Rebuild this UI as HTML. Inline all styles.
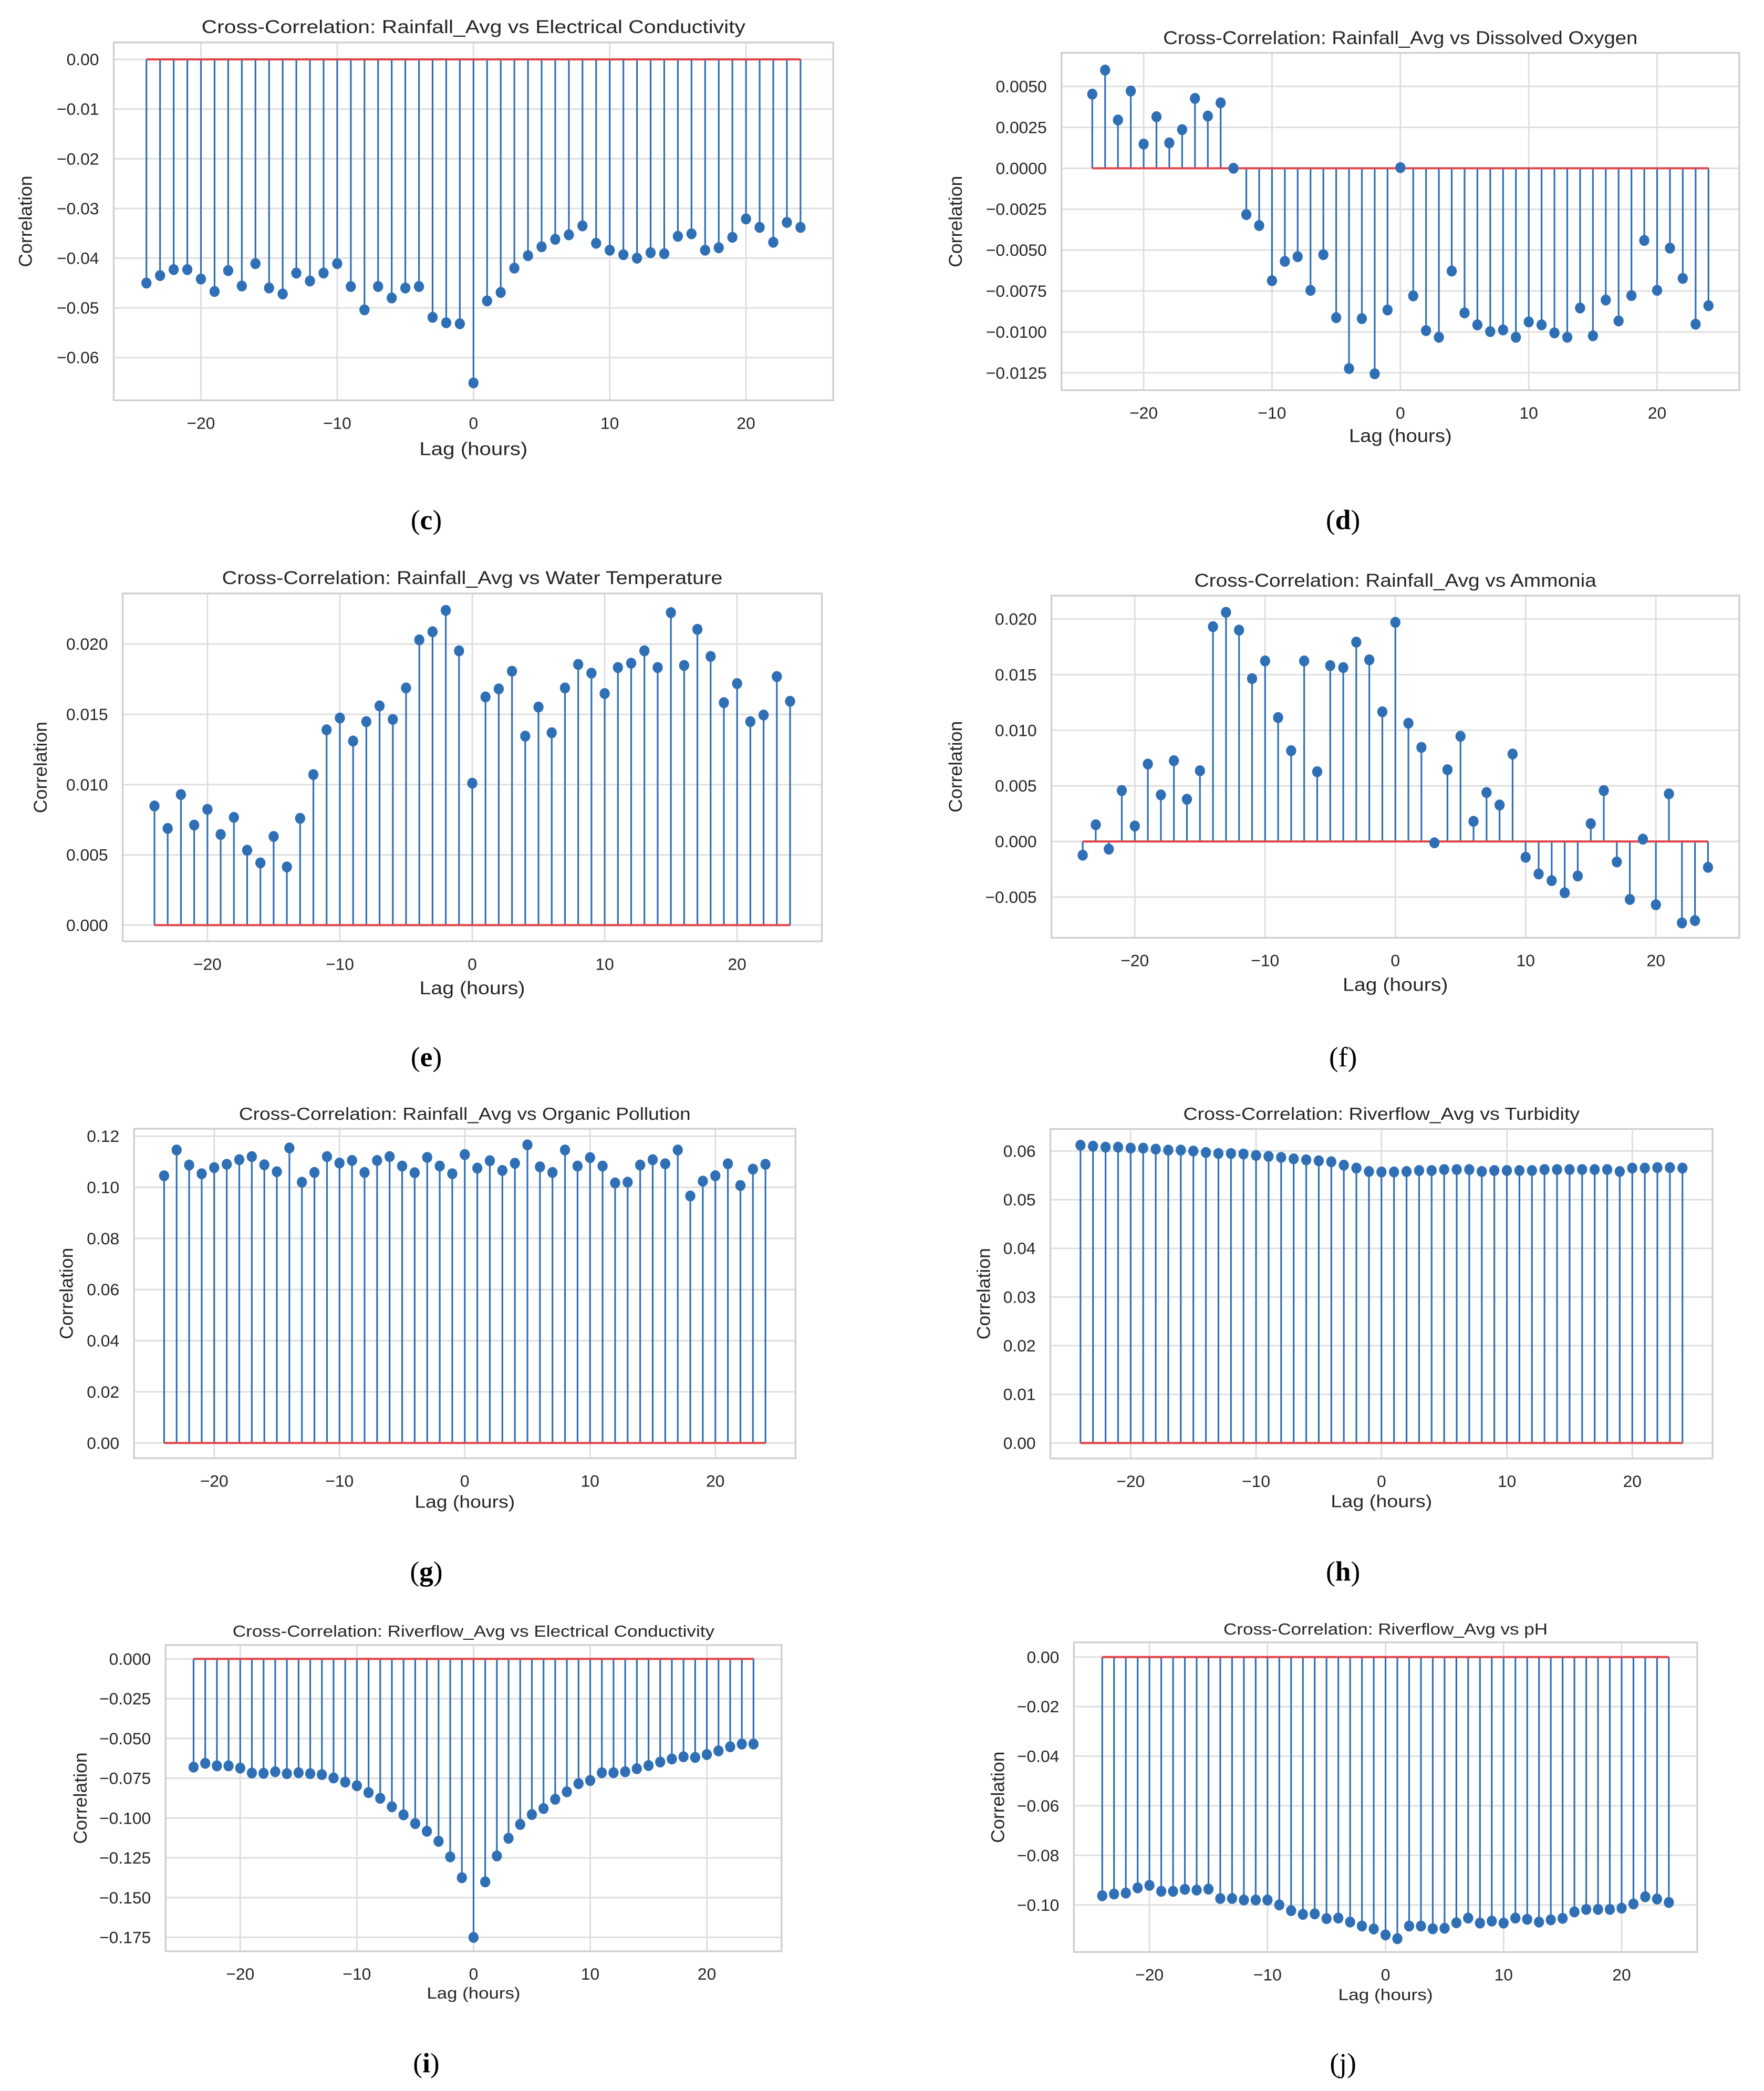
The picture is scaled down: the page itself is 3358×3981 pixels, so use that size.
<!DOCTYPE html>
<html><head><meta charset="utf-8"><style>
html,body{margin:0;padding:0;background:#fff;}
svg{display:block;}
</style></head><body>
<svg id="fig" xmlns="http://www.w3.org/2000/svg" width="3358" height="3981" viewBox="0 0 1320 1565" preserveAspectRatio="none" font-family="'Liberation Sans', 'DejaVu Sans', sans-serif">
<rect x="0" y="0" width="1320" height="1565" fill="#fff"/>
</svg>
<script>
const lags = [-24,-23,-22,-21,-20,-19,-18,-17,-16,-15,-14,-13,-12,-11,-10,-9,-8,-7,-6,-5,-4,-3,-2,-1,0,1,2,3,4,5,6,7,8,9,10,11,12,13,14,15,16,17,18,19,20,21,22,23,24];
const xTicks = [-20,-10,0,10,20];
const xTickLabels = ["\u221220","\u221210","0","10","20"];

const valsC = [-0.045,-0.0435,-0.0423,-0.0423,-0.0442,-0.0467,-0.0425,-0.0456,-0.0411,-0.046,-0.0472,-0.043,-0.0446,-0.043,-0.0411,-0.0457,-0.0504,-0.0457,-0.048,-0.046,-0.0457,-0.0519,-0.053,-0.0532,-0.0651,-0.0486,-0.0469,-0.042,-0.0395,-0.0377,-0.0362,-0.0353,-0.0335,-0.037,-0.0384,-0.0393,-0.04,-0.0389,-0.0391,-0.0356,-0.0351,-0.0384,-0.0379,-0.0358,-0.0321,-0.0338,-0.0368,-0.0328,-0.0338];
const valsD = [0.00453,0.006,0.00295,0.00472,0.00148,0.00315,0.00155,0.00236,0.00427,0.00319,0.004,0.0,-0.00283,-0.0035,-0.00687,-0.00569,-0.0054,-0.00746,-0.00528,-0.00913,-0.01224,-0.00919,-0.01256,-0.00866,0.00004,-0.0078,-0.00992,-0.01033,-0.00628,-0.00884,-0.00957,-0.00998,-0.00988,-0.01033,-0.00939,-0.00957,-0.01006,-0.01033,-0.00854,-0.01024,-0.00805,-0.00933,-0.00778,-0.00441,-0.00746,-0.00488,-0.00673,-0.00953,-0.0084];
const valsE = [0.00848,0.00688,0.00929,0.00712,0.00824,0.00645,0.00767,0.00533,0.00443,0.00631,0.00414,0.0076,0.01071,0.0139,0.01474,0.0131,0.01448,0.0156,0.01464,0.01688,0.0203,0.02088,0.0224,0.01952,0.0101,0.01624,0.01681,0.01807,0.01345,0.01552,0.01369,0.01688,0.01855,0.01793,0.01648,0.01833,0.01864,0.01952,0.01833,0.02224,0.01848,0.02105,0.01912,0.01583,0.01719,0.01448,0.01495,0.01769,0.01593];
const valsF = [-0.00123,0.0015,-0.00069,0.00458,0.00139,0.00696,0.00419,0.00726,0.0038,0.00636,0.01931,0.0206,0.019,0.01464,0.01623,0.01114,0.00816,0.01623,0.00627,0.01581,0.01563,0.01792,0.01633,0.01166,0.0197,0.01063,0.00846,-0.00012,0.00645,0.00946,0.00181,0.0044,0.00328,0.00786,-0.00142,-0.00292,-0.00352,-0.00461,-0.0031,0.0016,0.00458,-0.00184,-0.00521,0.00021,-0.00569,0.00428,-0.00732,-0.00711,-0.00232];
const valsG = [0.1045,0.1146,0.1087,0.1053,0.1077,0.109,0.1108,0.112,0.1088,0.1061,0.1154,0.102,0.1058,0.112,0.1095,0.1105,0.1058,0.1105,0.112,0.1083,0.1057,0.1117,0.1083,0.1053,0.1128,0.1075,0.1104,0.1066,0.1094,0.1166,0.108,0.1058,0.1146,0.1083,0.1116,0.1083,0.1017,0.102,0.1087,0.1108,0.1092,0.1146,0.0966,0.1024,0.1045,0.1092,0.1007,0.1071,0.109];
const valsH = [0.0612,0.061,0.0608,0.0608,0.0606,0.0606,0.0604,0.0602,0.0602,0.06,0.0597,0.0595,0.0595,0.0594,0.0591,0.0589,0.0587,0.0584,0.0582,0.058,0.0578,0.0571,0.0565,0.0558,0.0557,0.0557,0.0558,0.056,0.056,0.0562,0.0562,0.0562,0.0558,0.056,0.056,0.056,0.056,0.0562,0.0562,0.0562,0.0562,0.0562,0.0562,0.0558,0.0565,0.0565,0.0566,0.0566,0.0565];
const valsI = [-0.068,-0.0656,-0.0672,-0.0672,-0.0686,-0.0717,-0.0719,-0.0709,-0.0721,-0.0715,-0.0721,-0.0727,-0.0748,-0.0774,-0.0797,-0.084,-0.0876,-0.0929,-0.098,-0.1035,-0.1083,-0.1146,-0.1244,-0.1375,-0.175,-0.1401,-0.1238,-0.1127,-0.104,-0.0978,-0.094,-0.0882,-0.0835,-0.0784,-0.0764,-0.0715,-0.0715,-0.0709,-0.069,-0.067,-0.0648,-0.0629,-0.0615,-0.0619,-0.0601,-0.0578,-0.0552,-0.0535,-0.0535];
const valsJ = [-0.0963,-0.0956,-0.0952,-0.0931,-0.0921,-0.0945,-0.0945,-0.0937,-0.094,-0.0936,-0.0974,-0.0974,-0.098,-0.098,-0.098,-0.1,-0.1023,-0.1038,-0.1036,-0.1055,-0.1053,-0.1069,-0.1085,-0.1097,-0.1121,-0.1136,-0.1085,-0.1085,-0.1096,-0.1094,-0.1072,-0.1053,-0.1073,-0.1065,-0.1073,-0.1053,-0.1058,-0.1069,-0.106,-0.1054,-0.1028,-0.1018,-0.1018,-0.1018,-0.1013,-0.0996,-0.0967,-0.0976,-0.099];

const yTicksC = [0,-0.01,-0.02,-0.03,-0.04,-0.05,-0.06];
const yLabelsC = ["0.00","\u22120.01","\u22120.02","\u22120.03","\u22120.04","\u22120.05","\u22120.06"];
const yTicksD = [0.005,0.0025,0,-0.0025,-0.005,-0.0075,-0.01,-0.0125];
const yLabelsD = ["0.0050","0.0025","0.0000","\u22120.0025","\u22120.0050","\u22120.0075","\u22120.0100","\u22120.0125"];
const yTicksE = [0,0.005,0.01,0.015,0.02];
const yLabelsE = ["0.000","0.005","0.010","0.015","0.020"];
const yTicksF = [-0.005,0,0.005,0.01,0.015,0.02];
const yLabelsF = ["\u22120.005","0.000","0.005","0.010","0.015","0.020"];
const yTicksG = [0,0.02,0.04,0.06,0.08,0.1,0.12];
const yLabelsG = ["0.00","0.02","0.04","0.06","0.08","0.10","0.12"];
const yTicksH = [0,0.01,0.02,0.03,0.04,0.05,0.06];
const yLabelsH = ["0.00","0.01","0.02","0.03","0.04","0.05","0.06"];
const yTicksI = [0,-0.025,-0.05,-0.075,-0.1,-0.125,-0.15,-0.175];
const yLabelsI = ["0.000","\u22120.025","\u22120.050","\u22120.075","\u22120.100","\u22120.125","\u22120.150","\u22120.175"];
const yTicksJ = [0,-0.02,-0.04,-0.06,-0.08,-0.1];
const yLabelsJ = ["0.00","\u22120.02","\u22120.04","\u22120.06","\u22120.08","\u22120.10"];

const panels = [
 {id:"c",title:"Cross-Correlation: Rainfall_Avg vs Electrical Conductivity",tw:407,L:85.1,R:623.5,T:31.8,B:299.6,ymin:-0.0686,ymax:0.0034,vals:valsC,yt:yTicksC,yl:yLabelsC,titleY:20,xlY:336,xlW:81,ylX:19,fs:14,capX:319,capY:389,bold:true},
 {id:"d",title:"Cross-Correlation: Rainfall_Avg vs Dissolved Oxygen",tw:355,L:794.3,R:1301.5,T:39.6,B:292,ymin:-0.01356,ymax:0.00705,vals:valsD,yt:yTicksD,yl:yLabelsD,titleY:28.4,xlY:326,xlW:77,ylX:715,fs:14,capX:1005,capY:389,bold:true},
 {id:"e",title:"Cross-Correlation: Rainfall_Avg vs Water Temperature",tw:374.5,L:91.8,R:615,T:444.2,B:704.5,ymin:-0.00115,ymax:0.0236,vals:valsE,yt:yTicksE,yl:yLabelsE,titleY:432.4,xlY:739.4,xlW:79,ylX:30.3,fs:14,capX:319,capY:791,bold:true},
 {id:"f",title:"Cross-Correlation: Rainfall_Avg vs Ammonia",tw:300.8,L:786.8,R:1301.5,T:445.8,B:701.9,ymin:-0.00866,ymax:0.0221,vals:valsF,yt:yTicksF,yl:yLabelsF,titleY:434.4,xlY:737,xlW:78.8,ylX:715,fs:14,capX:1005,capY:791,bold:false},
 {id:"g",title:"Cross-Correlation: Rainfall_Avg vs Organic Pollution",tw:338,L:100.3,R:595.3,T:844.8,B:1091.4,ymin:-0.00596,ymax:0.1229,vals:valsG,yt:yTicksG,yl:yLabelsG,titleY:834,xlY:1124.4,xlW:75,ylX:49.7,fs:13,capX:319,capY:1176,bold:true},
 {id:"h",title:"Cross-Correlation: Riverflow_Avg vs Turbidity",tw:296.6,L:786,R:1281.5,T:845,B:1091.6,ymin:-0.00318,ymax:0.06453,vals:valsH,yt:yTicksH,yl:yLabelsH,titleY:834,xlY:1124,xlW:75.8,ylX:736,fs:13,capX:1005,capY:1176,bold:true},
 {id:"i",title:"Cross-Correlation: Riverflow_Avg vs Electrical Conductivity",tw:360.6,L:123.9,R:584.8,T:1231.2,B:1460.4,ymin:-0.1837,ymax:0.00873,vals:valsI,yt:yTicksI,yl:yLabelsI,titleY:1221,xlY:1491.8,xlW:70,ylX:60.2,fs:12,capX:319,capY:1544,bold:true},
 {id:"j",title:"Cross-Correlation: Riverflow_Avg vs pH",tw:242.6,L:803.6,R:1270,T:1229.2,B:1461,ymin:-0.119,ymax:0.00593,vals:valsJ,yt:yTicksJ,yl:yLabelsJ,titleY:1219.4,xlY:1493,xlW:70.8,ylX:746.7,fs:12,capX:1005,capY:1544,bold:false}
];

const NS = "http://www.w3.org/2000/svg";
const fig = document.getElementById("fig");
function mk(tag, attrs, parent){
  const e = document.createElementNS(NS, tag);
  for (const k in attrs) e.setAttribute(k, attrs[k]);
  parent.appendChild(e);
  return e;
}
const XMIN = -26.4, XMAX = 26.4;
panels.forEach(p => {
  const g = mk("g", {}, fig);
  
  
  const xs = v => p.L + (v - XMIN) / (XMAX - XMIN) * (p.R - p.L);
  const ys = v => p.B - (v - p.ymin) / (p.ymax - p.ymin) * (p.B - p.T);
  const cx = (p.L + p.R) / 2, cy = (p.T + p.B) / 2;
  // grid
  p.yt.forEach((t, i) => {
    const gl = mk("line", {x1:p.L, x2:p.R, y1:ys(t), y2:ys(t), stroke:"#dddddd", "stroke-width":1.1}, g);
    
    
    const tl = mk("text", {x:p.L - 11, y:ys(t), "text-anchor":"end", "dominant-baseline":"central", "font-size":12.5, fill:"#262626"}, g);
    tl.textContent = p.yl[i];
    
    
  });
  xTicks.forEach((t, i) => {
    const gl = mk("line", {x1:xs(t), x2:xs(t), y1:p.T, y2:p.B, stroke:"#dddddd", "stroke-width":1.1}, g);
    
    
    const tl = mk("text", {x:xs(t), y:p.B + 17, "text-anchor":"middle", "dominant-baseline":"central", "font-size":12.5, fill:"#262626"}, g);
    tl.textContent = xTickLabels[i];
    
    
  });
  const fr = mk("rect", {x:p.L, y:p.T, width:p.R - p.L, height:p.B - p.T, fill:"none", stroke:"#cfcfcf", "stroke-width":1.3}, g);
  
  
  // stems
  lags.forEach((lag, i) => {
    const st = mk("line", {x1:xs(lag), x2:xs(lag), y1:ys(0), y2:ys(p.vals[i]), stroke:"#2f6fb5", "stroke-width":1.25}, g);
    
    
  });
  const bl = mk("line", {x1:xs(lags[0]), x2:xs(lags[lags.length-1]), y1:ys(0), y2:ys(0), stroke:"#e0474c", "stroke-width":1.6}, g);
  
  
  lags.forEach((lag, i) => {
    const mkr = mk("ellipse", {cx:xs(lag), cy:ys(p.vals[i]), rx:3.8, ry:4.1, fill:"#2f6fb5"}, g);
    
    
  });
  const tt = mk("text", {x:cx, y:p.titleY, "text-anchor":"middle", "dominant-baseline":"central", "font-size":p.fs, fill:"#262626", textLength:p.tw, lengthAdjust:"spacingAndGlyphs"}, g);
  tt.textContent = p.title;
  
  
  const xl = mk("text", {x:cx, y:p.xlY, "text-anchor":"middle", "dominant-baseline":"central", "font-size":p.fs, fill:"#262626", textLength:p.xlW, lengthAdjust:"spacingAndGlyphs"}, g);
  xl.textContent = "Lag (hours)";
  
  
  const yl = mk("text", {x:p.ylX, y:cy, "text-anchor":"middle", "dominant-baseline":"central", "font-size":14, fill:"#262626", transform:"rotate(-90 " + p.ylX + " " + cy + ")"}, g);
  yl.textContent = "Correlation";
  
  
  const cap = mk("text", {x:p.capX, y:p.capY, "text-anchor":"middle", "dominant-baseline":"central", "font-size":21, fill:"#000", "font-family":"'Liberation Serif', serif"}, g);
  
  
  const t1 = mk("tspan", {}, cap); t1.textContent = "(";
  const t2 = mk("tspan", {"font-weight": p.bold ? "bold" : "normal"}, cap); t2.textContent = p.id;
  const t3 = mk("tspan", {}, cap); t3.textContent = ")";
});
</script>
</body></html>
